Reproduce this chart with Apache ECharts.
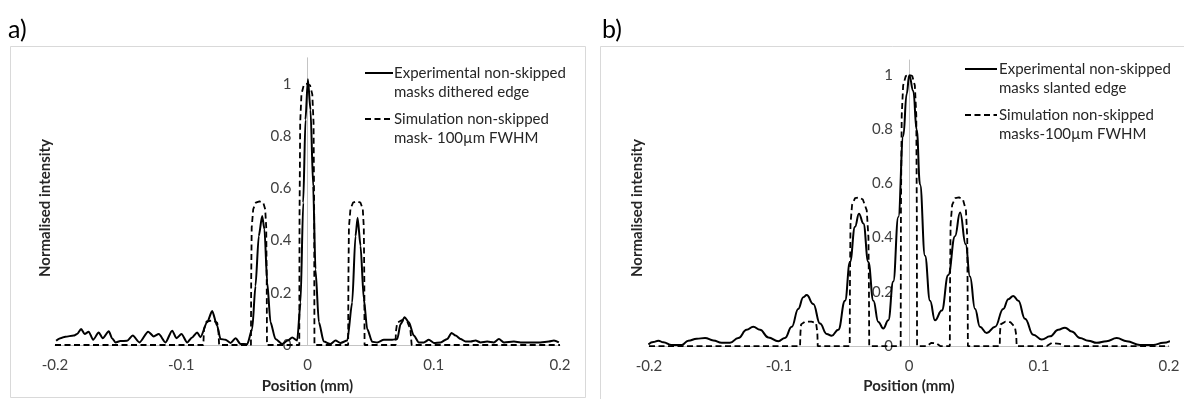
<!DOCTYPE html>
<html><head><meta charset="utf-8">
<script src="https://cdn.jsdelivr.net/npm/echarts@6/dist/echarts.min.js"></script>
<style>html,body{margin:0;padding:0;background:#fff}#c{width:1184px;height:399px}</style>
</head><body><div id="c"></div>
<script>
// ---------- data ----------
const xTicks = [-0.2, -0.1, 0, 0.1, 0.2];
const yTicks = [0, 0.2, 0.4, 0.6, 0.8, 1];

const aExpX = [-0.1991,-0.1957,-0.1918,-0.1852,-0.1825,-0.1793,-0.1765,-0.1733,-0.1698,-0.1654,-0.1622,-0.1574,-0.1548,-0.1521,-0.1482,-0.1429,-0.1384,-0.1331,-0.1262,-0.1218,-0.1178,-0.1125,-0.1072,-0.1038,-0.0998,-0.0953,-0.0914,-0.0874,-0.0848,-0.0795,-0.0755,-0.0716,-0.0689,-0.065,-0.061,-0.057,-0.053,-0.0478,-0.0438,-0.0412,-0.0386,-0.0359,-0.0341,-0.0319,-0.0293,-0.0254,-0.02,-0.0156,-0.0121,-0.0082,-0.0055,-0.0034,-0.0016,0.0003,0.0024,0.0045,0.0063,0.009,0.0129,0.0182,0.0222,0.0261,0.0315,0.0354,0.038,0.0397,0.042,0.0446,0.0473,0.0513,0.0552,0.0605,0.0671,0.0711,0.0737,0.0769,0.0803,0.0842,0.0882,0.0922,0.0961,0.1001,0.1054,0.1107,0.1141,0.1173,0.1212,0.1252,0.1292,0.1331,0.1371,0.1424,0.1476,0.1516,0.1556,0.1635,0.1688,0.1767,0.1846,0.1912,0.1952,0.1991];
const aExpY = [0.016,0.026,0.032,0.036,0.042,0.061,0.042,0.051,0.02,0.048,0.026,0.053,0.026,0.01,0.015,0.016,0.036,0.01,0.051,0.033,0.042,0.01,0.055,0.026,0.042,0.01,0.029,0.048,0.03,0.087,0.13,0.074,0.023,0.02,0.008,0.026,0.004,0.003,0.061,0.226,0.417,0.494,0.443,0.239,0.087,0.023,0.004,0.017,0.029,0.017,0.163,0.545,0.863,1.018,0.9,0.608,0.29,0.087,0.013,0.004,0.017,0.008,0.017,0.163,0.417,0.487,0.38,0.176,0.061,0.012,0.01,0.02,0.02,0.023,0.08,0.106,0.087,0.036,0.01,0.01,0.02,0.008,0.01,0.023,0.046,0.036,0.023,0.013,0.013,0.017,0.01,0.013,0.01,0.023,0.01,0.013,0.01,0.01,0.01,0.013,0.017,0.01];

const aSimX = [-0.2,-0.0825,-0.082,-0.08,-0.075,-0.0715,-0.0705,-0.07,-0.0448,-0.0446,-0.0442,-0.043,-0.041,-0.038,-0.035,-0.0335,-0.0327,-0.0323,-0.0321,-0.0065,-0.0063,-0.0058,-0.0048,-0.003,-0.0005,0.002,0.0038,0.0048,0.0053,0.0055,0.0322,0.0324,0.0328,0.034,0.036,0.039,0.042,0.0438,0.0446,0.045,0.0452,0.0698,0.07,0.071,0.0745,0.079,0.0815,0.0825,0.2];
const aSimY = [0,0,0.06,0.09,0.095,0.085,0.05,0,0,0.25,0.45,0.52,0.545,0.55,0.545,0.52,0.45,0.25,0,0,0.5,0.85,0.96,0.995,1.0,0.995,0.96,0.85,0.5,0,0,0.25,0.45,0.52,0.545,0.55,0.545,0.52,0.45,0.25,0,0,0.05,0.085,0.095,0.09,0.06,0,0];

const bExpX = [-0.2005,-0.1967,-0.1928,-0.189,-0.1826,-0.1749,-0.1698,-0.1633,-0.1569,-0.1505,-0.1441,-0.1377,-0.1313,-0.1249,-0.1198,-0.1146,-0.1082,-0.1005,-0.0954,-0.0902,-0.0852,-0.0813,-0.0787,-0.0736,-0.0685,-0.0633,-0.0595,-0.0544,-0.0492,-0.0454,-0.0415,-0.0385,-0.0351,-0.0313,-0.0274,-0.0236,-0.0198,-0.0159,-0.0121,-0.0082,-0.0044,-0.0018,0.0002,0.0033,0.0059,0.0085,0.0123,0.0162,0.02,0.0252,0.0302,0.0354,0.0393,0.0436,0.0469,0.0508,0.0546,0.0598,0.0662,0.0725,0.0764,0.0802,0.0841,0.0892,0.0956,0.1021,0.1085,0.1148,0.12,0.1252,0.1315,0.1379,0.1444,0.152,0.1598,0.1675,0.1777,0.1879,0.1956,0.2008];
const bExpY = [0.006,0.015,0.02,0.014,0.004,0.004,0.02,0.027,0.03,0.021,0.012,0.012,0.03,0.06,0.071,0.06,0.032,0.018,0.03,0.071,0.137,0.18,0.188,0.155,0.083,0.045,0.038,0.06,0.167,0.31,0.44,0.488,0.452,0.31,0.167,0.089,0.065,0.095,0.238,0.476,0.774,0.929,0.998,0.94,0.797,0.595,0.333,0.167,0.095,0.131,0.262,0.405,0.492,0.375,0.256,0.137,0.071,0.048,0.071,0.137,0.173,0.185,0.167,0.101,0.042,0.024,0.036,0.06,0.068,0.054,0.03,0.02,0.012,0.018,0.03,0.018,0.004,0.004,0.012,0.018];

const bSimX = [-0.2,-0.0838,-0.0835,-0.083,-0.08,-0.075,-0.0715,-0.0705,-0.0702,-0.0456,-0.0454,-0.045,-0.0438,-0.0415,-0.0385,-0.0355,-0.0325,-0.0312,-0.0308,-0.0306,-0.0064,-0.0062,-0.0056,-0.0045,-0.0025,0,0.0025,0.0045,0.0056,0.006,0.0062,0.014,0.017,0.021,0.024,0.0314,0.0316,0.032,0.0332,0.0355,0.0385,0.0415,0.0438,0.0448,0.0451,0.0453,0.0698,0.07,0.0705,0.074,0.078,0.0815,0.0825,0.0828,0.106,0.11,0.116,0.12,0.2];
const bSimY = [0,0,0.05,0.08,0.09,0.09,0.085,0.05,0,0,0.25,0.45,0.52,0.545,0.548,0.54,0.5,0.4,0.2,0,0,0.5,0.85,0.96,0.995,1.0,0.995,0.96,0.85,0.5,0,0,0.012,0.01,0,0,0.25,0.45,0.52,0.545,0.548,0.54,0.5,0.4,0.2,0,0,0.05,0.08,0.09,0.088,0.07,0.04,0,0,0.012,0.008,0,0];

const legendA = ['Experimental non-skipped\nmasks dithered edge', 'Simulation non-skipped\nmask- 100µm FWHM'];
const legendB = ['Experimental non-skipped\nmasks slanted edge', 'Simulation non-skipped\nmasks-100µm FWHM'];
const panelLabels = ['a)', 'b)'];
const xTitle = 'Position (mm)';
const yTitle = 'Normalised intensity';

// ---------- chart ----------
const zip = (xs, ys) => xs.map((x, i) => [x, ys[i]]);
const FONT = 'Lato, "Open Sans", sans-serif';
const labelColor = '#404040';
const axisColor = '#c4c4c4';

const gridA = { left: 55, right: 1184 - 560, top: 346 - 262 * 1.1, bottom: 399 - 346 };
const gridB = { left: 649, right: 1184 - 1169, top: 60, bottom: 399 - 355 };
// pixel offset of x = 0 from the left edge of each grid (axis crosses at zero)
const zeroOffA = (1184 - gridA.left - gridA.right) / 2;
const zeroOffB = (1184 - gridB.left - gridB.right) / 2;

function xAx(gi) {
  return {
    gridIndex: gi, type: 'value', min: -0.2, max: 0.2, interval: 0.1,
    axisLine: { show: true, lineStyle: { color: axisColor, width: 1 } },
    axisTick: { show: false }, splitLine: { show: false },
    axisLabel: { margin: 13, fontFamily: FONT, fontSize: 15, color: labelColor,
      formatter: v => { const t = xTicks.find(k => Math.abs(k - v) < 1e-9); return t === undefined ? '' : String(t); } },
    name: xTitle, nameLocation: 'middle', nameGap: gi === 0 ? 34 : 32,
    nameTextStyle: { fontFamily: FONT, fontSize: 15, fontWeight: 'bold', color: '#262626', verticalAlign: 'top' }
  };
}
function yAx(gi, max, off) {
  return {
    gridIndex: gi, type: 'value', min: 0, max: max, interval: 0.2, offset: -off,
    axisLine: { show: true, onZero: false, lineStyle: { color: axisColor, width: 1 } },
    axisTick: { show: false }, splitLine: { show: false },
    axisLabel: { margin: 16, fontFamily: FONT, fontSize: 15, color: labelColor,
      formatter: v => { const t = yTicks.find(k => Math.abs(k - v) < 1e-9); return t === undefined ? '' : String(t); } }
  };
}
function solid(gi, data, sm) {
  return { type: 'line', xAxisIndex: gi, yAxisIndex: gi, data: data, showSymbol: false, symbol: 'none',
    smooth: sm, smoothMonotone: 'x', lineStyle: { color: '#000', width: 2 }, z: 4, animation: false };
}
function dashed(gi, data) {
  return { type: 'line', xAxisIndex: gi, yAxisIndex: gi, data: data, showSymbol: false, symbol: 'none',
    smooth: false, lineStyle: { color: '#000', width: 1.8, type: [6, 3.5] }, z: 3, animation: false };
}

function txt(x, y, text, extra) {
  return { type: 'text', x: x, y: y, z: 10, style: Object.assign({
    text: text, fill: '#262626', fontFamily: FONT, fontSize: 15,
    textAlign: 'left', align: 'left', textVerticalAlign: 'middle', verticalAlign: 'middle' }, extra || {}) };
}
function seg(x1, x2, y, dash) {
  return { type: 'line', z: 10, shape: { x1: x1, y1: y, x2: x2, y2: y },
    style: { stroke: '#000', lineWidth: dash ? 1.8 : 2, lineDash: dash ? [6, 3.5] : null } };
}
function ytitle(x) {
  return { type: 'text', x: x, y: 208, rotation: Math.PI / 2, z: 10, style: { text: yTitle, fontFamily: FONT, fontSize: 15, fontWeight: 'bold', fill: '#262626', textAlign: 'center', align: 'center', textVerticalAlign: 'middle', verticalAlign: 'middle' } };
}

const graphics = [
  { type: 'rect', z: -5, shape: { x: 10.5, y: 46.5, width: 575, height: 351 }, style: { fill: '#fff', stroke: '#d9d9d9', lineWidth: 1 } },
  { type: 'rect', z: -5, shape: { x: 600.5, y: 46.5, width: 600, height: 360 }, style: { fill: '#fff', stroke: '#d9d9d9', lineWidth: 1 } },
  txt(8, 30, panelLabels[0], { fontSize: 25, fill: '#000' }),
  txt(602, 30, panelLabels[1], { fontSize: 25, fill: '#000' }),
  ytitle(45), ytitle(637),
  seg(365, 393, 73, false), seg(365, 393, 119, true),
  txt(394, 82.5, legendA[0], { lineHeight: 19 }), txt(394, 128.5, legendA[1], { lineHeight: 19 }),
  seg(965, 997, 69, false), seg(965, 997, 115, true),
  txt(999, 78.5, legendB[0], { lineHeight: 19 }), txt(999, 125, legendB[1], { lineHeight: 19 })
];

const chart = echarts.init(document.getElementById('c'), null, { renderer: 'canvas' });
chart.setOption({
  animation: false,
  backgroundColor: '#fff',
  grid: [gridA, gridB],
  xAxis: [xAx(0), xAx(1)],
  yAxis: [yAx(0, 1.1, zeroOffA), yAx(1, 1.054, zeroOffB)],
  series: [
    solid(0, zip(aExpX, aExpY), 0.25),
    dashed(0, zip(aSimX, aSimY)),
    solid(1, zip(bExpX, bExpY), 0.45),
    dashed(1, zip(bSimX, bSimY))
  ],
  graphic: graphics
});
</script></body></html>
